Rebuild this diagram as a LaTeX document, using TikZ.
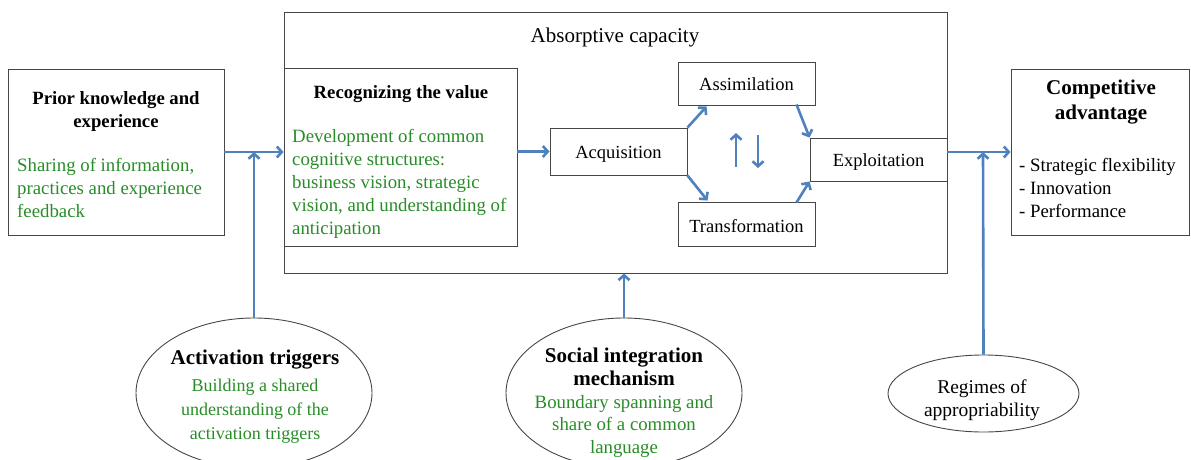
\documentclass[tikz,border=0pt]{standalone}
\usepackage{fontspec}
\setmainfont{Liberation Serif}
\usetikzlibrary{shapes.geometric,arrows.meta}
\definecolor{arrblue}{RGB}{79,129,189}
\definecolor{txtgreen}{RGB}{40,140,40}
\definecolor{boxline}{RGB}{70,70,70}
\tikzset{
  box/.style={draw=boxline,line width=0.9pt,rectangle,inner sep=0pt},
  oval/.style={draw=boxline,line width=0.9pt,ellipse,inner sep=0pt},
  txt/.style={inner sep=0pt,font=\fontsize{18.5}{23}\selectfont},
  btxt/.style={inner sep=0pt,align=center,font=\fontsize{18.7}{23}\selectfont\bfseries},
  gtxt/.style={inner sep=0pt,align=left,text=txtgreen,font=\fontsize{18.8}{23}\selectfont},
  flow/.style={draw=arrblue,line width=2.6pt,-{Straight Barb[length=5pt,width=11pt]}},
}
\begin{document}
\begin{tikzpicture}[x=1pt,y=-1pt]
\useasboundingbox (0,0) rectangle (1191,460);
\clip (0,0) rectangle (1191,460);
% boxes
\node[box,minimum width=216pt,minimum height=166pt] (prior) at (116,152) {};
\node[box,minimum width=663pt,minimum height=261pt] (acap) at (615.5,142.5) {};
\node[box,minimum width=233pt,minimum height=178pt] (recog) at (400.5,157) {};
\node[box,minimum width=137pt,minimum height=47pt] (acq) at (618.5,151.5) {};
\node[box,minimum width=137pt,minimum height=43pt] (assim) at (746.5,83.5) {};
\node[box,minimum width=137pt,minimum height=44pt] (trans) at (746.5,224) {};
\node[box,minimum width=137pt,minimum height=43pt] (explo) at (878.5,159.5) {};
\node[box,minimum width=178pt,minimum height=166pt] (comp) at (1100,152) {};
% ellipses
\node[oval,minimum width=236pt,minimum height=150pt] (act) at (254,393) {};
\node[oval,minimum width=236pt,minimum height=150pt] (soc) at (624,393) {};
\node[oval,minimum width=191pt,minimum height=77pt] (reg) at (983.5,393.5) {};
% texts
\node[txt,font=\fontsize{21}{25}\selectfont] (actitle) at (615,37) {Absorptive capacity};
\node[btxt] (priortitle) at (116,111.5) {Prior knowledge and\\experience};
\node[gtxt,anchor=west] (priortxt) at (17,188) {Sharing of information,\\practices and experience\\feedback};
\node[btxt] (recogtitle) at (401,94) {Recognizing the value};
\node[gtxt,anchor=west] (recogtxt) at (292,184) {Development of common\\cognitive structures:\\business vision, strategic\\vision, and understanding of\\anticipation};
\node[txt,yshift=-3pt] (acqt) at (acq) {Acquisition};
\node[txt,yshift=-1pt] (assimt) at (assim) {Assimilation};
\node[txt,yshift=-2pt] (transt) at (trans) {Transformation};
\node[txt,yshift=-2.5pt] (explot) at (explo) {Exploitation};
\node[btxt,font=\fontsize{21}{25}\selectfont\bfseries] (comptitle) at (1101,102.5) {Competitive\\advantage};
\node[txt,align=left,anchor=west,font=\fontsize{18.8}{23}\selectfont] (complist) at (1019,187.5) {- Strategic flexibility\\- Innovation\\- Performance};
\node[btxt,font=\fontsize{21}{24}\selectfont\bfseries] (acttitle) at (255,360) {Activation triggers};
\node[gtxt,align=center,font=\fontsize{18}{24}\selectfont] (acttxt) at (255,411) {Building a shared\\understanding of the\\activation triggers};
\node[btxt,font=\fontsize{21}{23}\selectfont\bfseries] (soctitle) at (624,367) {Social integration\\mechanism};
\node[gtxt,align=center,font=\fontsize{18.8}{22.5}\selectfont] (soctxt) at (624,426.5) {Boundary spanning and\\share of a common\\language};
\node[txt,align=center,font=\fontsize{19.5}{22.5}\selectfont] (regt) at (982,400) {Regimes of\\appropriability};
% connectors
\coordinate (j1) at (254,152);
\coordinate (j2) at (983,152);
\draw[flow] (prior.east |- j1) -- (acap.west |- j1);
\draw[flow] (act.north) -- (j1);
\draw[flow] (recog.east |- acq) -- (acq.west);
\draw[flow] (acq.north east) -- ([xshift=29pt,yshift=-1pt]assim.south west);
\draw[flow] (acq.south east) -- ([xshift=30pt,yshift=1pt]trans.north west);
\draw[flow] ([xshift=-19pt,yshift=1pt]assim.south east) -- (explo.north west);
\draw[flow] ([xshift=-19pt,yshift=-1pt]trans.north east) -- (explo.south west);
\coordinate (u1) at (736,167);
\coordinate (u2) at (736,133);
\coordinate (d1) at (758,135);
\coordinate (d2) at (758,168);
\draw[flow] (u1) -- (u2);
\draw[flow] (d1) -- (d2);
\draw[flow] (acap.east |- j2) -- (comp.west |- j2);
\draw[flow] (reg.north) -- (j2);
\draw[flow] (soc.north) -- (soc.north |- acap.south);
\end{tikzpicture}
\end{document}
